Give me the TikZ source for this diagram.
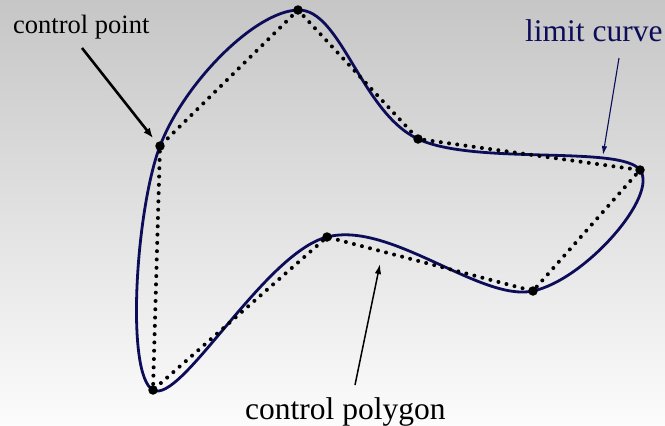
\documentclass[tikz,border=0pt]{standalone}
\usepackage{fontspec}
\setmainfont{Liberation Serif}
\newfontfamily\tmsfont{Liberation Serif}
\usetikzlibrary{arrows.meta}
\definecolor{navyc}{RGB}{12,12,88}
\definecolor{bgtop}{RGB}{198,198,198}
\definecolor{bgbot}{RGB}{252,252,252}
\tikzset{
  limitc/.style={draw=navyc, line width=2.8pt},
  polyc/.style={draw=black, line width=4pt, line cap=round, dash pattern=on 0pt off 8.3pt},
  cpt/.style={circle, fill=black, inner sep=0pt, minimum size=9.5pt},
  lbl/.style={inner sep=0pt, anchor=base west}
}
\begin{document}
\begin{tikzpicture}[x=1pt,y=-1pt]
\shade[top color=bgtop, bottom color=bgbot] (0,0) rectangle (665,426);
\useasboundingbox (0,0) rectangle (665,426);
\coordinate (p1) at (298,10);
\coordinate (p2) at (418,139);
\coordinate (p3) at (640,170);
\coordinate (p4) at (533,291);
\coordinate (p5) at (327,237);
\coordinate (p6) at (153,390);
\coordinate (p7) at (160,146);
\draw[limitc] plot[smooth cycle, tension=0.6] coordinates {(298,10) (418,139) (640,170) (533,291) (327,237) (153,390) (160,146)};
\draw[polyc] (p1) -- (p2) -- (p3) -- (p4) -- (p5) -- (p6) -- (p7) -- cycle;
\foreach \p in {p1,p2,p3,p4,p5,p6,p7} \node[cpt] at (\p) {};
\node[lbl, font=\tmsfont\fontsize{26.5}{28}\selectfont] (tcp) at (13,33) {control point};
\node[lbl, font=\tmsfont\fontsize{31.5}{33}\selectfont, text=navyc] (tlc) at (525,41) {limit curve};
\node[lbl, font=\tmsfont\fontsize{31.5}{33}\selectfont] (tpg) at (245,419) {control polygon};
\coordinate (a1s) at (82,48);
\coordinate (a1e) at (153,138);
\coordinate (a2s) at (619,58);
\coordinate (a2e) at (603,155);
\coordinate (a3s) at (355,385);
\coordinate (a3e) at (380,264);
\draw[line width=2.6pt, -{Latex[length=10pt,width=8pt]}] (a1s) -- (a1e);
\draw[navyc, line width=1.1pt, -{Latex[length=9pt,width=5.5pt]}] (a2s) -- (a2e);
\draw[line width=1.5pt, -{Latex[length=10pt,width=6.5pt]}] (a3s) -- (a3e);
\end{tikzpicture}
\end{document}
